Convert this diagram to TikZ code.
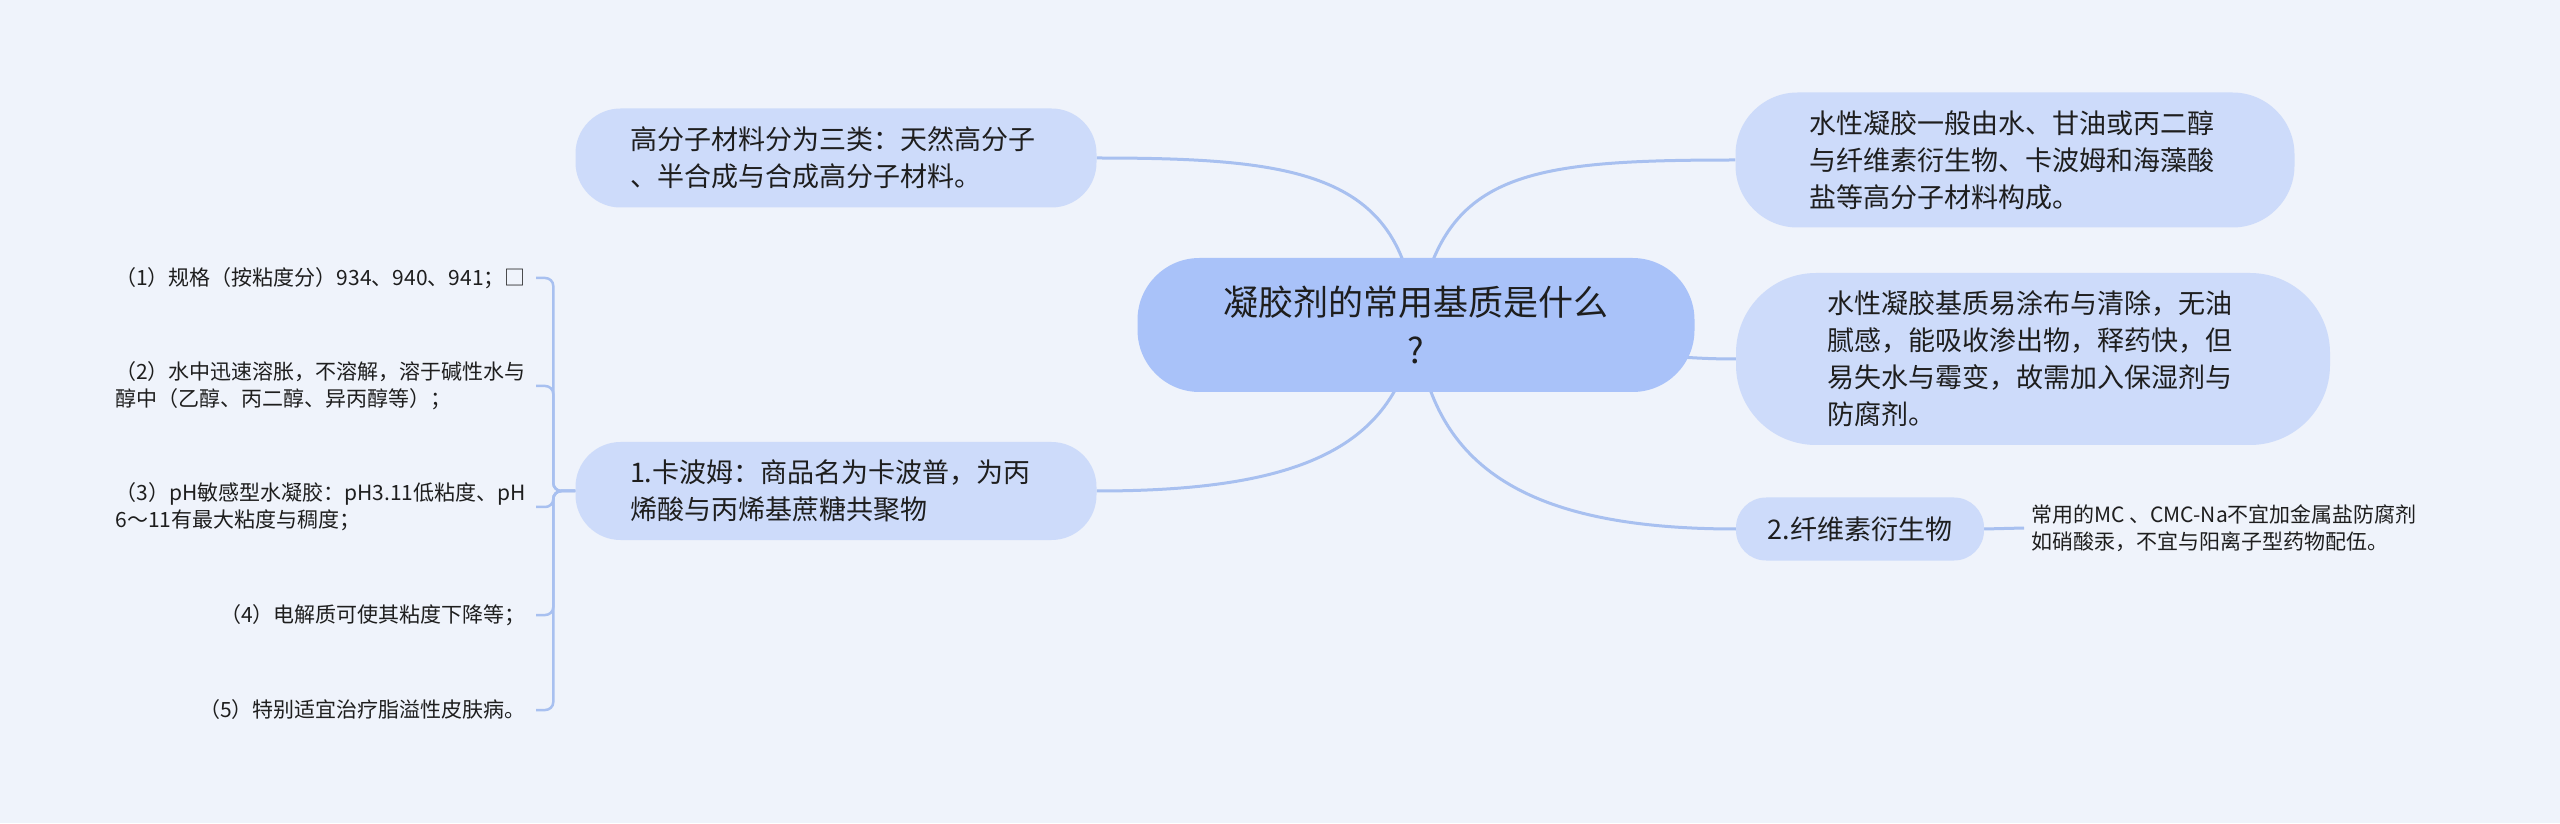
\documentclass[tikz,border=0pt]{standalone}
\usepackage{fontspec}
\setmainfont{Noto Sans CJK SC}
\definecolor{bgcol}{RGB}{239,243,251}
\definecolor{rootcol}{RGB}{169,194,249}
\definecolor{boxcol}{RGB}{205,219,250}
\definecolor{linecol}{RGB}{168,192,240}
\definecolor{txtcol}{RGB}{30,30,30}
\pgfdeclarelayer{bg}
\pgfdeclarelayer{edges}
\pgfsetlayers{bg,edges,main}

\begin{document}
\begin{tikzpicture}[x=1pt,y=1pt,root/.style={fill=rootcol,rounded corners=62pt,
	minimum width=557pt,minimum height=134pt,align=center,text=txtcol,font=\fontsize{35}{48}\selectfont},
	topic/.style={fill=boxcol,inner sep=0pt,align=left,text=txtcol,font=\fontsize{27}{37}\selectfont},
	leaf/.style={inner sep=0pt,align=left,text=txtcol,font=\fontsize{21}{27}\selectfont},
	link/.style={draw=linecol,line width=3pt},
	bracket/.style={draw=linecol,line width=2.5pt,rounded corners=8pt}]
\useasboundingbox (0,0) rectangle (2560,823);
\begin{pgfonlayer}{bg}
\fill[bgcol] (0,0) rectangle (2560,823);
\end{pgfonlayer}
\node[root] (q) at (1416,498) {凝胶剂的常用基质是什么\\?};
\node[topic,text width=412pt,minimum width=521pt,minimum height=99pt,rounded corners=45pt] (gfz) at (836,665) {高分子材料分为三类：天然高分子\\、半合成与合成高分子材料。};
\node[topic,text width=412pt,minimum width=521pt,minimum height=98pt,rounded corners=45pt] (kbm) at (836,332) {1.卡波姆：商品名为卡波普，为丙\\烯酸与丙烯基蔗糖共聚物};
\node[topic,text width=412pt,minimum width=559pt,minimum height=135pt,rounded corners=62pt] (sxnj) at (2015,663) {水性凝胶一般由水、甘油或丙二醇\\与纤维素衍生物、卡波姆和海藻酸\\盐等高分子材料构成。};
\node[topic,text width=412pt,minimum width=594pt,minimum height=172pt,rounded corners=80pt] (jzd) at (2033,464) {水性凝胶基质易涂布与清除，无油\\腻感，能吸收渗出物，释药快，但\\易失水与霉变，故需加入保湿剂与\\防腐剂。};
\node[topic,text width=200pt,align=center,minimum width=248pt,minimum height=63pt,rounded corners=30pt] (xws) at (1860,294) {2.纤维素衍生物};
\node[leaf,anchor=west] (cmc) at (2031,295) {常用的MC 、CMC-Na不宜加金属盐防腐剂\\如硝酸汞，不宜与阳离子型药物配伍。};
% leaves of 1.卡波姆
\node[leaf,anchor=east] (k1) at (526,545) {（1）规格（按粘度分）934、940、941；□};
\node[leaf,anchor=east] (k2) at (526,437) {（2）水中迅速溶胀，不溶解，溶于碱性水与\\醇中（乙醇、丙二醇、异丙醇等）；};
\node[leaf,anchor=east] (k3) at (526,316) {（3）pH敏感型水凝胶：pH3.11低粘度、pH\\6～11有最大粘度与稠度；};
\node[leaf,anchor=east] (k4) at (526,208) {（4）电解质可使其粘度下降等；};
\node[leaf,anchor=east] (k5) at (526,113) {（5）特别适宜治疗脂溢性皮肤病。};
\begin{pgfonlayer}{edges}
\draw[link] (q.center) .. controls (1405,650) and (1300,665) .. (gfz.east);
\draw[link] (q.center) .. controls (1440,650) and (1520,663) .. (sxnj.west);
\draw[link] (q.center) .. controls (1560,498) and (1600,464) .. (jzd.west);
\draw[link] (q.center) .. controls (1430,360) and (1520,294) .. (xws.west);
\draw[link] (q.center) .. controls (1398,375) and (1300,332) .. (kbm.east);
\draw[link] (xws.east) -- ([xshift=-7pt]cmc.west);
\foreach \k in {k1,k2,k3,k4,k5}
	\draw[bracket] (kbm.west) -- ++(-22,0) |- ([xshift=10pt]\k.east);
\end{pgfonlayer}
\end{tikzpicture}
\end{document}
